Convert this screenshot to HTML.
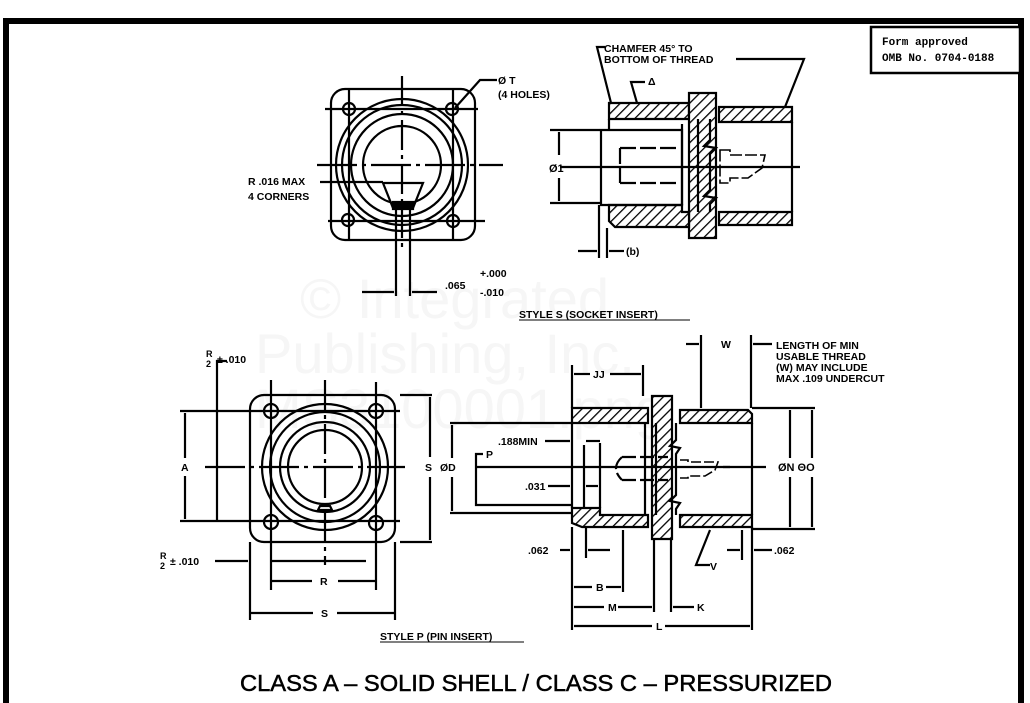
<!DOCTYPE html>
<html><head><meta charset="utf-8"><style>
html,body{margin:0;padding:0;background:#fff;}
svg{display:block;}
text{font-family:"Liberation Sans",sans-serif;font-weight:bold;fill:#000;}
</style></head><body>
<svg width="1030" height="703" viewBox="0 0 1030 703" xmlns="http://www.w3.org/2000/svg">
<defs>
<pattern id="h" patternUnits="userSpaceOnUse" width="7" height="7" patternTransform="rotate(45)">
<rect width="7" height="7" fill="#fff"/><line x1="0" y1="0" x2="0" y2="7" stroke="#000" stroke-width="2.6"/>
</pattern>
</defs>
<!-- watermark -->
<g font-size="56">
<text x="300" y="318" style="fill:#f6f6f6;font-weight:normal">© Integrated</text>
<text x="255" y="373" style="fill:#f6f6f6;font-weight:normal">Publishing, Inc.</text>
<text x="255" y="428" style="fill:#f6f6f6;font-weight:normal">MS3100001.png</text>
</g>
<!-- border -->
<g fill="#000">
<rect x="3" y="18" width="6" height="685"/>
<rect x="3" y="18" width="1021" height="6"/>
<rect x="1018" y="20" width="6" height="683"/>
</g>
<rect x="871" y="27" width="149" height="46" fill="#fff" stroke="#000" stroke-width="2.5"/>
<text x="882" y="45" font-size="11" style="font-family:'Liberation Mono',monospace">Form approved</text>
<text x="882" y="61" font-size="11" style="font-family:'Liberation Mono',monospace">OMB No. 0704-0188</text>

<g stroke="#000" fill="none" stroke-width="2.2">
<!-- TOP-LEFT face view -->
<rect x="331" y="89" width="144" height="151" rx="14"/>
<circle cx="402" cy="165" r="66"/>
<circle cx="402" cy="165" r="60"/>
<circle cx="402" cy="165" r="51"/>
<circle cx="402" cy="165" r="39"/>
<circle cx="349" cy="109" r="6"/><circle cx="452" cy="109" r="6"/>
<circle cx="348" cy="220" r="6"/><circle cx="453" cy="221" r="6"/>
<line x1="402" y1="76" x2="402" y2="250" stroke-dasharray="30,5,4,5"/>
<line x1="317" y1="165" x2="503" y2="165" stroke-dasharray="40,5,4,5"/>
<line x1="325" y1="109" x2="478" y2="109"/><line x1="328" y1="221" x2="485" y2="221"/>
<line x1="349" y1="89" x2="349" y2="240"/><line x1="453" y1="88" x2="453" y2="240"/>
<path d="M383 183 L423 183 L413 208 L393 208 Z"/>
<rect x="393" y="202" width="20" height="7" fill="#000"/>
<line x1="320" y1="182" x2="383" y2="182"/>
<line x1="396" y1="210" x2="396" y2="296"/><line x1="410" y1="210" x2="410" y2="296"/>
<line x1="362" y1="292" x2="394" y2="292"/><line x1="412" y1="292" x2="437" y2="292"/>
<polyline points="497,80 480,80 455,108"/>

<!-- TOP-RIGHT section -->
<path d="M609 103 L689 103 L689 119 L609 119 Z" fill="url(#h)"/>
<path d="M689 93 L716 93 L716 238 L689 238 Z" fill="url(#h)"/>
<path d="M719 107 L792 107 L792 122 L719 122 Z" fill="url(#h)"/>
<path d="M609 205 L682 205 L682 212 L689 212 L689 227 L615 227 L609 221 Z" fill="url(#h)"/>
<path d="M719 212 L792 212 L792 225 L719 225 Z" fill="url(#h)"/>
<line x1="609" y1="119" x2="609" y2="130"/>
<line x1="792" y1="122" x2="792" y2="212"/>
<path d="M601 130 L682 130 L682 205 L601 205 Z"/>
<line x1="682" y1="124" x2="682" y2="205"/>
<line x1="698" y1="119" x2="698" y2="212"/>
<polyline points="710,119 710,140 704,146 716,148 710,154 710,190 704,196 716,198 710,204 710,212"/>
<path d="M620 148 L680 148 M620 183 L680 183 M620 148 L620 183" stroke-dasharray="16,4"/>
<path d="M720 150 L730 150 L730 155 L765 155 L762 168 L748 178 L730 178 L730 183 L720 183 Z" stroke-width="1.6" stroke-dasharray="12,3"/>
<line x1="560" y1="167" x2="800" y2="167"/>
<line x1="550" y1="130" x2="600" y2="130"/><line x1="550" y1="203" x2="600" y2="203"/>
<line x1="559" y1="132" x2="559" y2="155"/><line x1="559" y1="178" x2="559" y2="201"/>
<line x1="599" y1="205" x2="599" y2="258"/><line x1="607" y1="228" x2="607" y2="258"/>
<line x1="578" y1="251" x2="597" y2="251"/><line x1="609" y1="251" x2="624" y2="251"/>
<polyline points="605,47 597,47 611,103"/>
<polyline points="736,59 804,59 785,107"/>
<polyline points="645,82 631,82 637,103"/>

<!-- BOTTOM-LEFT face view -->
<rect x="250" y="395" width="145" height="147" rx="14"/>
<circle cx="325" cy="467" r="63"/>
<circle cx="325" cy="467" r="55"/>
<circle cx="325" cy="467" r="45"/>
<circle cx="325" cy="467" r="37"/>
<circle cx="271" cy="411" r="7"/><circle cx="376" cy="411" r="7"/>
<circle cx="271" cy="522" r="7"/><circle cx="376" cy="523" r="7"/>
<path d="M318 510 L332 510 L330 506 L320 506 Z"/>
<line x1="325" y1="380" x2="325" y2="565" stroke-dasharray="30,5,4,5"/>
<line x1="205" y1="467" x2="405" y2="467" stroke-dasharray="40,5,4,5"/>
<line x1="180" y1="411" x2="400" y2="411"/><line x1="180" y1="521" x2="400" y2="521"/>
<line x1="271" y1="380" x2="271" y2="590"/><line x1="376" y1="382" x2="376" y2="590"/>
<line x1="185" y1="413" x2="185" y2="458"/><line x1="185" y1="476" x2="185" y2="519"/>
<polyline points="227,361 217,361 217,521"/>
<line x1="250" y1="542" x2="250" y2="620"/><line x1="395" y1="542" x2="395" y2="620"/>
<line x1="400" y1="395" x2="432" y2="395"/><line x1="400" y1="542" x2="432" y2="542"/>
<line x1="430" y1="397" x2="430" y2="457"/><line x1="430" y1="477" x2="430" y2="540"/>
<line x1="215" y1="561" x2="248" y2="561"/><line x1="271" y1="561" x2="366" y2="561"/>
<line x1="271" y1="581" x2="312" y2="581"/><line x1="338" y1="581" x2="376" y2="581"/>
<line x1="250" y1="613" x2="313" y2="613"/><line x1="337" y1="613" x2="395" y2="613"/>

<!-- BOTTOM-RIGHT section -->
<path d="M572 408 L648 408 L648 423 L572 423 Z" fill="url(#h)"/>
<path d="M652 396 L672 396 L672 539 L652 539 Z" fill="url(#h)"/>
<path d="M680 410 L748 410 L752 414 L752 423 L680 423 Z" fill="url(#h)"/>
<path d="M572 508 L600 508 L600 515 L648 515 L648 527 L582 527 L572 523 Z" fill="url(#h)"/>
<path d="M680 515 L752 515 L752 527 L680 527 Z" fill="url(#h)"/>
<line x1="572" y1="423" x2="572" y2="508"/>
<line x1="752" y1="423" x2="752" y2="515"/>
<line x1="600" y1="443" x2="600" y2="508"/>
<line x1="645" y1="423" x2="645" y2="515"/>
<line x1="656" y1="423" x2="656" y2="515"/>
<polyline points="676,423 676,440 670,446 680,448 676,454 676,495 670,501 680,503 676,509 676,515"/>
<path d="M622 457 L668 457 M622 480 L668 480 M622 457 Q610 468 622 480" stroke-dasharray="14,4"/>
<path d="M680 460 L688 460 L688 462 L718 462 L715 470 L705 476 L688 476 L688 478 L680 478" stroke-width="1.6" stroke-dasharray="10,3"/>
<line x1="476" y1="467" x2="730" y2="467"/>
<line x1="723" y1="467" x2="766" y2="467"/>
<line x1="450" y1="423" x2="572" y2="423"/><line x1="450" y1="513" x2="572" y2="513"/>
<line x1="452" y1="425" x2="452" y2="458"/><line x1="452" y1="477" x2="452" y2="511"/>
<polyline points="483,454 476,454 476,505 572,505"/>
<line x1="752" y1="408" x2="815" y2="408"/><line x1="752" y1="529" x2="815" y2="529"/>
<line x1="790" y1="410" x2="790" y2="458"/><line x1="790" y1="477" x2="790" y2="527"/>
<line x1="812" y1="410" x2="812" y2="458"/><line x1="812" y1="477" x2="812" y2="527"/>
<line x1="572" y1="365" x2="572" y2="408"/><line x1="643" y1="365" x2="643" y2="396"/>
<line x1="574" y1="374" x2="590" y2="374"/><line x1="610" y1="374" x2="641" y2="374"/>
<line x1="701" y1="335" x2="701" y2="408"/><line x1="751" y1="335" x2="751" y2="408"/>
<line x1="686" y1="344" x2="699" y2="344"/><line x1="753" y1="344" x2="772" y2="344"/>
<line x1="545" y1="441" x2="570" y2="441"/><line x1="584" y1="445" x2="584" y2="508"/><line x1="586" y1="441" x2="600" y2="441"/>
<line x1="548" y1="486" x2="570" y2="486"/><line x1="586" y1="486" x2="598" y2="486"/>
<line x1="572" y1="527" x2="572" y2="630"/>
<line x1="586" y1="527" x2="586" y2="558"/>
<line x1="623" y1="530" x2="623" y2="592"/>
<line x1="654" y1="539" x2="654" y2="612"/><line x1="671" y1="539" x2="671" y2="612"/>
<line x1="752" y1="527" x2="752" y2="630"/><line x1="742" y1="530" x2="742" y2="560"/>
<line x1="560" y1="550" x2="570" y2="550"/><line x1="588" y1="550" x2="610" y2="550"/>
<line x1="727" y1="550" x2="740" y2="550"/><line x1="754" y1="550" x2="772" y2="550"/>
<line x1="574" y1="587" x2="592" y2="587"/><line x1="606" y1="587" x2="621" y2="587"/>
<line x1="574" y1="607" x2="604" y2="607"/><line x1="618" y1="607" x2="652" y2="607"/>
<line x1="673" y1="607" x2="694" y2="607"/>
<line x1="574" y1="626" x2="652" y2="626"/><line x1="665" y1="626" x2="750" y2="626"/>
<polyline points="710,530 696,565 710,565"/>
</g>

<!-- labels -->
<g font-size="10.5">
<text x="248" y="185">R .016 MAX</text>
<text x="248" y="200">4 CORNERS</text>
<text x="498" y="84">Ø T</text>
<text x="498" y="98">(4 HOLES)</text>
<text x="445" y="289">.065</text>
<text x="480" y="277">+.000</text>
<text x="480" y="296">-.010</text>
<text x="604" y="52">CHAMFER 45° TO</text>
<text x="604" y="63">BOTTOM OF THREAD</text>
<text x="648" y="85">Δ</text>
<text x="549" y="172" font-size="11">Ø1</text>
<text x="626" y="255">(b)</text>
<text x="519" y="318">STYLE S (SOCKET INSERT)</text>
<text x="206" y="357" font-size="9">R</text>
<text x="206" y="367" font-size="9">2</text>
<text x="217" y="363">± .010</text>
<text x="181" y="471">A</text>
<text x="160" y="559" font-size="9">R</text>
<text x="160" y="569" font-size="9">2</text>
<text x="170" y="565">± .010</text>
<text x="320" y="585">R</text>
<text x="321" y="617">S</text>
<text x="425" y="471">S</text>
<text x="440" y="471">ØD</text>
<text x="380" y="640">STYLE P (PIN INSERT)</text>
<text x="593" y="378">JJ</text>
<text x="721" y="348">W</text>
<text x="776" y="349">LENGTH OF MIN</text>
<text x="776" y="360">USABLE THREAD</text>
<text x="776" y="371">(W) MAY INCLUDE</text>
<text x="776" y="382">MAX .109 UNDERCUT</text>
<text x="498" y="445">.188MIN</text>
<text x="486" y="458">P</text>
<text x="525" y="490">.031</text>
<text x="528" y="554">.062</text>
<text x="774" y="554">.062</text>
<text x="596" y="591">B</text>
<text x="608" y="611">M</text>
<text x="697" y="611">K</text>
<text x="656" y="630">L</text>
<text x="710" y="570">V</text>
<text x="778" y="471" font-size="11">ØN ΘO</text>
</g>
<g stroke="#000" stroke-width="1">
<line x1="519" y1="320" x2="690" y2="320"/>
<line x1="380" y1="642" x2="524" y2="642"/>
</g>
<text x="240" y="691" font-size="23" textLength="592" lengthAdjust="spacingAndGlyphs" style="font-weight:normal;stroke:#000;stroke-width:0.5">CLASS A – SOLID SHELL / CLASS C – PRESSURIZED</text>
</svg>
</body></html>
